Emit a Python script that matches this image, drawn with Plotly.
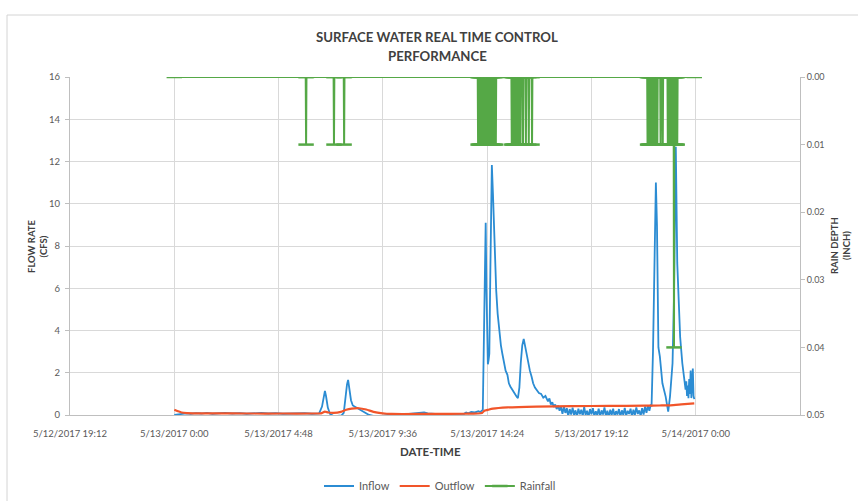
import plotly.graph_objects as go
import pandas as pd

# ---------------- data ----------------
# minutes after 5/13/2017 0:00
inflow_min = [0, 10, 20, 33, 45, 60, 75, 90, 105, 120, 140, 160, 180, 200, 220, 240, 260, 280, 300,
              320, 340, 360, 380, 400, 408, 413, 416, 419, 424, 430, 438, 450, 462, 468, 472, 477, 480,
              484, 488, 493, 500, 505, 510, 520, 530, 538, 550, 562, 575, 590, 605, 620, 640, 660, 680,
              690, 700, 720, 740, 760, 780, 800, 806, 812, 820, 830, 840, 845, 852, 856, 860, 862, 864,
              866, 868, 870, 873, 877, 880, 883, 886, 889, 893, 897, 902, 906, 910, 915, 920, 924, 928,
              933, 938, 942, 946, 949, 953, 957, 961, 965, 969, 973, 977, 982, 987, 991, 996, 1001,
              1007, 1013, 1019, 1025, 1032, 1036, 1040, 1044, 1048, 1052, 1056, 1060, 1064, 1068,
              1072, 1076, 1080, 1084, 1088, 1092, 1096, 1100, 1104, 1108, 1112, 1116, 1120, 1124, 1128,
              1132, 1136, 1140, 1144, 1148, 1152, 1156, 1160, 1164, 1168, 1172, 1176, 1180, 1184, 1188,
              1192, 1196, 1200, 1204, 1208, 1212, 1216, 1220, 1224, 1228, 1232, 1236, 1240, 1244, 1248,
              1252, 1256, 1260, 1264, 1268, 1272, 1276, 1280, 1284, 1288, 1292, 1296, 1300, 1304, 1308,
              1312, 1316, 1318, 1322, 1326, 1330, 1333, 1334, 1337, 1341, 1348, 1357, 1364, 1369, 1376,
              1380, 1385, 1389, 1397, 1403, 1408, 1412, 1414, 1416, 1418, 1420, 1422, 1424, 1426, 1428,
              1430, 1432, 1434, 1436]
inflow_cfs = [0.0, 0.02, 0.05, 0.08, 0.06, 0.09, 0.07, 0.1, 0.06, 0.08, 0.1, 0.07, 0.09, 0.06, 0.08, 0.1, 0.07, 0.09, 0.06,
              0.08, 0.07, 0.09, 0.06, 0.08, 0.4, 0.95, 1.14, 0.9, 0.35, 0.05, -0.03, -0.04, -0.02, 0.1, 0.8, 1.45, 1.66,
              1.2, 0.7, 0.45, 0.38, 0.36, 0.32, 0.2, 0.1, 0.0, -0.04, -0.05, -0.04, 0.0, 0.03, 0.05, 0.04, 0.06, 0.1,
              0.12, 0.08, 0.05, 0.03, 0.05, 0.04, 0.06, 0.12, 0.08, 0.15, 0.12, 0.18, 0.14, 0.25, 5.0, 9.1, 6.0, 2.7,
              2.4, 2.6, 2.9, 7.0, 11.83, 10.5, 8.75, 7.2, 5.9, 4.8, 4.0, 3.3, 2.9, 2.45, 2.1, 1.9, 1.5, 1.35,
              1.2, 1.04, 0.95, 0.85, 0.8, 1.3, 2.5, 3.3, 3.6, 3.2, 2.8, 2.45, 2.1, 1.8, 1.5, 1.3, 1.2,
              1.04, 1.0, 0.82, 0.9, 0.65, 0.78, 0.5, 0.6, 0.38, 0.5, 0.28, 0.45, 0.2, 0.4,
              0.05, 0.4, 0.1, 0.32, -0.05, 0.28, 0.02, 0.35, 0.0, 0.22, -0.08, 0.3, 0.04, 0.25, -0.05,
              0.38, 0.0, 0.2, -0.1, 0.28, 0.03, 0.32, -0.06, 0.18, 0.0, 0.3, -0.08, 0.22, 0.02, 0.36,
              -0.05, 0.2, -0.1, 0.25, 0.0, 0.3, -0.06, 0.18, 0.02, 0.28, -0.08, 0.22, 0.0, 0.34, -0.04,
              0.2, 0.05, 0.3, -0.08, 0.25, 0.0, 0.36, 0.05, 0.22, -0.05, 0.32, 0.02, 0.4, 0.1, 0.45,
              0.2, 0.5, 0.4, 3.0, 7.5, 11.0, 9.0, 7.2, 3.2, 2.76, 1.5, 0.87, 0.16, 0.87, 2.45,
              5.6, 12.7, 7.2, 3.7, 2.45, 1.8, 1.2, 1.6, 0.9, 1.4, 0.8, 1.7, 1.0, 2.1, 0.8,
              1.5, 2.2, 0.9, 0.75]

outflow_min = [0, 10, 20, 35, 60, 120, 200, 300, 380, 405, 416, 425, 440, 460, 475, 490, 510, 530, 550,
               575, 600, 700, 800, 850, 856, 865, 880, 920, 1000, 1100, 1200, 1300, 1340, 1370, 1400, 1436]
outflow_cfs = [0.25, 0.18, 0.12, 0.09, 0.08, 0.08, 0.07, 0.07, 0.07, 0.08, 0.16, 0.12, 0.1, 0.15, 0.25, 0.3,
               0.32, 0.26, 0.15, 0.08, 0.05, 0.05, 0.06, 0.1, 0.2, 0.24, 0.3, 0.36, 0.4, 0.42, 0.43, 0.44,
               0.45, 0.46, 0.5, 0.55]

# rain gauge tips (minutes after 5/13/2017 0:00) and depth per tip (inch)
rain_tip_min = [364, 441, 469,
                839, 842, 845, 848, 851, 854, 857, 860, 863, 866, 869, 872, 875, 878, 883, 888,
                932, 935, 938, 941, 944, 947, 950, 953, 956, 963, 971, 979, 988,
                1307, 1310, 1313, 1316, 1319, 1322, 1325, 1328, 1331, 1334, 1343, 1349,
                1363, 1366, 1369, 1372, 1375, 1380, 1383, 1386, 1389]
rain_tip_in = [0.01, 0.01, 0.01,
               0.01, 0.01, 0.01, 0.01, 0.01, 0.01, 0.01, 0.01, 0.01, 0.01, 0.01, 0.01, 0.01, 0.01, 0.01, 0.01,
               0.01, 0.01, 0.01, 0.01, 0.01, 0.01, 0.01, 0.01, 0.01, 0.01, 0.01, 0.01, 0.01,
               0.01, 0.01, 0.01, 0.01, 0.01, 0.01, 0.01, 0.01, 0.01, 0.01, 0.01, 0.01,
               0.01, 0.01, 0.01, 0.01, 0.01, 0.04, 0.01, 0.01, 0.01]
rain_start_min, rain_end_min = 0, 1436

x_tick_vals = ['2017-05-12 19:12', '2017-05-13 00:00', '2017-05-13 04:48', '2017-05-13 09:36',
               '2017-05-13 14:24', '2017-05-13 19:12', '2017-05-14 00:00']
x_tick_text = ['5/12/2017 19:12', '5/13/2017 0:00', '5/13/2017 4:48', '5/13/2017 9:36',
               '5/13/2017 14:24', '5/13/2017 19:12', '5/14/2017 0:00']
x_range = ['2017-05-12 19:12', '2017-05-14 04:48']
flow_ticks = [0, 2, 4, 6, 8, 10, 12, 14, 16]
rain_ticks = [0.0, 0.01, 0.02, 0.03, 0.04, 0.05]

# ---------------- build ----------------
base = pd.Timestamp('2017-05-13 00:00')
def to_time(mins):
    return list(base + pd.to_timedelta(mins, unit='m'))

# rainfall series: zero between tips, each tip drawn as a single reading
r_min, r_val = [rain_start_min], [0.0]
for t, v in zip(rain_tip_min, rain_tip_in):
    r_min += [t - 1, t, t + 1]
    r_val += [0.0, v, 0.0]
r_min.append(rain_end_min)
r_val.append(0.0)

BLUE = '#2b8cd3'
ORANGE = '#f1552a'
GREEN = '#55a846'
FONT = 'Lato'
GRID = '#d9d9d9'
TXT = '#595959'
DARK = '#404040'

fig = go.Figure()
fig.add_trace(go.Scatter(x=to_time(inflow_min), y=inflow_cfs, name='Inflow', mode='lines',
                         line=dict(color=BLUE, width=1.8)))
fig.add_trace(go.Scatter(x=to_time(outflow_min), y=outflow_cfs, name='Outflow', mode='lines',
                         line=dict(color=ORANGE, width=2.2, shape='spline', smoothing=0.6)))
fig.add_trace(go.Scatter(x=to_time(r_min), y=r_val, name='Rainfall', mode='lines+markers', yaxis='y2',
                         line=dict(color=GREEN, width=2),
                         marker=dict(symbol='line-ew', size=11, color=GREEN,
                                     line=dict(width=2.5, color=GREEN))))

W, H = 858, 501
L, R, T, B = 70, 800, 77, 415
def px(x):
    return (x - L) / (R - L)
def py(y):
    return (B - y) / (B - T)

fig.update_layout(
    width=W, height=H,
    margin=dict(l=L, r=W - R, t=T, b=H - B, autoexpand=False),
    paper_bgcolor='white', plot_bgcolor='white',
    font=dict(family=FONT, size=9, color=TXT),
    xaxis=dict(type='date', range=x_range, tickvals=x_tick_vals, ticktext=x_tick_text,
               showgrid=True, gridcolor=GRID, gridwidth=1, zeroline=False, automargin=False,
               showline=True, linecolor='#bfbfbf', linewidth=1, ticks='', ticklabelstandoff=10,
               tickfont=dict(family=FONT, size=9.5, color=TXT)),
    yaxis=dict(range=[0, 16], tickvals=flow_ticks, showgrid=True, gridcolor=GRID, gridwidth=1,
               zeroline=False, showline=True, linecolor='#bfbfbf', linewidth=1, automargin=False,
               ticks='outside', ticklen=4, tickcolor='#bfbfbf', ticklabelstandoff=3,
               tickfont=dict(family=FONT, size=9.5, color=TXT)),
    yaxis2=dict(overlaying='y', side='right', range=[0.05, 0], tickvals=rain_ticks,
                tickformat='.2f', showgrid=False, zeroline=False, showline=True, automargin=False,
                linecolor='#bfbfbf', linewidth=1, ticks='outside', ticklen=4, tickcolor='#bfbfbf',
                tickfont=dict(family=FONT, size=9, color=TXT)),
    legend=dict(orientation='h', x=px(440), xanchor='center', yref='container', y=1 - 486 / H,
                yanchor='middle', font=dict(family=FONT, size=11, color=TXT),
                bgcolor='rgba(0,0,0,0)'),
    showlegend=True,
)

def note(text, x, y, size, angle=0, color=DARK):
    fig.add_annotation(text=text, xref='paper', yref='paper', x=px(x), y=py(y),
                       xanchor='center', yanchor='middle', textangle=angle, showarrow=False,
                       font=dict(family=FONT, size=size, color=color))

note('<b>SURFACE WATER REAL TIME CONTROL</b>', 437, 37, 13.2)
note('<b>PERFORMANCE</b>', 437, 56, 13.2)
note('<b>FLOW RATE<br>(CFS)</b>', 37, 246, 9.5, -90)
note('<b>RAIN DEPTH<br>(INCH)</b>', 840, 246, 9.5, -90)
note('<b>DATE-TIME</b>', 430, 451, 11.5)

# scanned chart-area border
fig.add_shape(type='rect', xref='paper', yref='paper',
              x0=px(7), x1=px(880), y0=py(530), y1=py(15),
              line=dict(color='#d4d4d4', width=1), layer='below')

fig.write_html('out.html', config={'displayModeBar': False},
               post_script="document.body.style.margin='0';")
